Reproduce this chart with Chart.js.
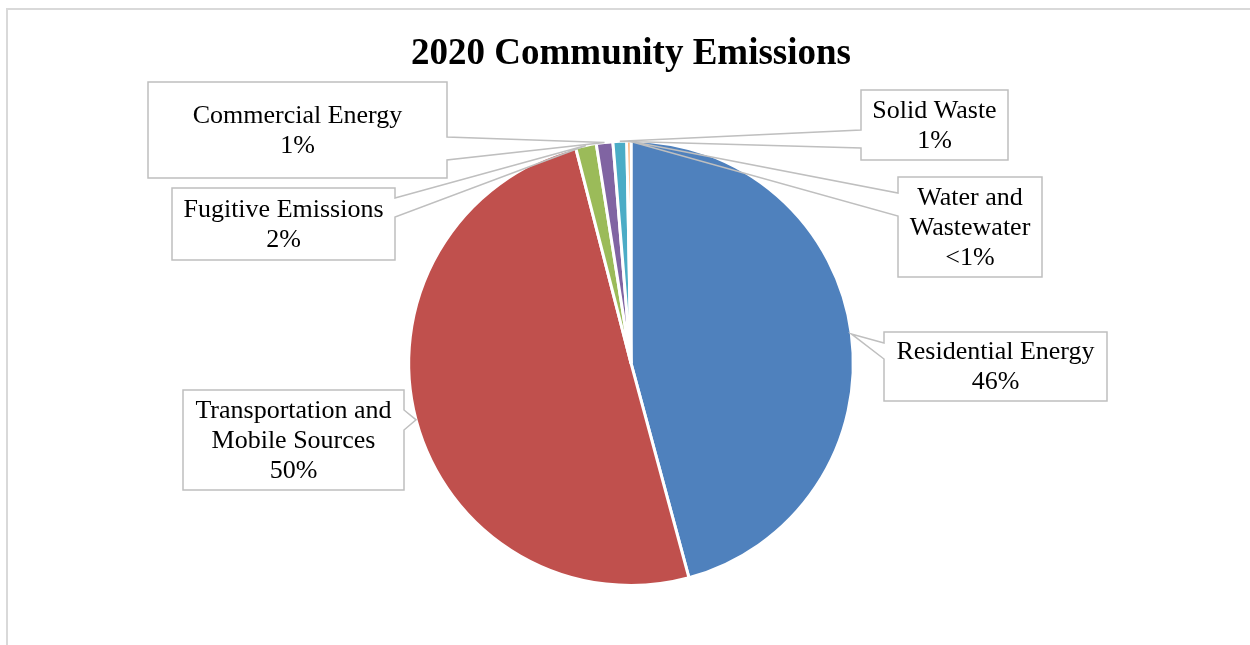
<!DOCTYPE html>
<html>
<head>
<meta charset="utf-8">
<title>2020 Community Emissions</title>
<script src="https://cdn.jsdelivr.net/npm/chart.js@4.4.0/dist/chart.umd.min.js"></script>
<style>
  body { margin: 0; background: #fff; }
  #wrap { width: 1250px; height: 645px; position: relative; }
</style>
</head>
<body>
<div id="wrap"><canvas id="myChart"></canvas></div>
<script>
'use strict';

let sectors = ['Residential Energy', 'Transportation and Mobile Sources', 'Fugitive Emissions', 'Commercial Energy', 'Solid Waste', 'Water and Wastewater'];
let shares = [45.8, 50.2, 1.5, 1.2, 1.0, 0.3];
let sliceColors = ['#4F81BD', '#C0504D', '#9BBB59', '#8064A2', '#4BACC6', '#F79646'];

// callout boxes, same order as sectors: [left, top, right, bottom],
// which side the pointer leaves from and where its base sits on that side
let callouts = [
  {box: [884, 332, 1107, 401], side: 'left', base: [343, 359]},
  {box: [183, 390, 404, 490], side: 'right', base: [410, 430]},
  {box: [172, 188, 395, 260], side: 'right', base: [198, 217]},
  {box: [148, 82, 447, 178], side: 'right', base: [137, 160]},
  {box: [861, 90, 1008, 160], side: 'left', base: [130, 148]},
  {box: [898, 177, 1042, 277], side: 'left', base: [193, 216]}
];

let labelFont = '26px "Liberation Serif", "Times New Roman", serif';

function pctText(i){
  let total = shares.reduce((a, b) => a + b, 0);
  let p = shares[i] / total * 100;
  return p < 1 ? '<1%' : Math.round(p) + '%';
}

function wrapWords(ctx, text, maxW){
  let words = text.split(' ');
  let lines = [];
  let cur = '';
  for(let w of words){
    let test = cur ? cur + ' ' + w : w;
    if(cur && ctx.measureText(test).width > maxW){
      lines.push(cur);
      cur = w;
    } else {
      cur = test;
    }
  }
  if(cur) lines.push(cur);
  return lines;
}

function drawCallout(ctx, c, tip, name, pct){
  let [x1, y1, x2, y2] = c.box;
  ctx.save();
  ctx.fillStyle = '#fff';
  ctx.fillRect(x1, y1, x2 - x1, y2 - y1);

  ctx.beginPath();
  if(c.side === 'left'){
    ctx.moveTo(x1, c.base[0]);
    ctx.lineTo(x1, y1);
    ctx.lineTo(x2, y1);
    ctx.lineTo(x2, y2);
    ctx.lineTo(x1, y2);
    ctx.lineTo(x1, c.base[1]);
    ctx.lineTo(tip.x, tip.y);
    ctx.closePath();
  } else {
    ctx.moveTo(x2, c.base[1]);
    ctx.lineTo(x2, y2);
    ctx.lineTo(x1, y2);
    ctx.lineTo(x1, y1);
    ctx.lineTo(x2, y1);
    ctx.lineTo(x2, c.base[0]);
    ctx.lineTo(tip.x, tip.y);
    ctx.closePath();
  }
  ctx.strokeStyle = '#BFBFBF';
  ctx.lineWidth = 1.5;
  ctx.stroke();

  ctx.font = labelFont;
  ctx.fillStyle = '#000';
  ctx.textAlign = 'center';
  ctx.textBaseline = 'middle';
  let lines = wrapWords(ctx, name, x2 - x1 - 16);
  lines.push(pct);
  let lh = 30;
  let cx = (x1 + x2) / 2;
  let cy = (y1 + y2) / 2 - (lines.length - 1) * lh / 2;
  lines.forEach((l, k) => ctx.fillText(l, cx, cy + k * lh + 1));
  ctx.restore();
}

// light grey frame around the chart
const framePlugin = {
  id: 'frame',
  beforeDraw(chart){
    let ctx = chart.ctx;
    ctx.save();
    ctx.strokeStyle = '#D9D9D9';
    ctx.lineWidth = 2;
    ctx.beginPath();
    ctx.moveTo(7, chart.height);
    ctx.lineTo(7, 9);
    ctx.lineTo(chart.width, 9);
    ctx.stroke();
    ctx.restore();
  }
};

// boxed data labels with wedge pointers onto each slice
const calloutPlugin = {
  id: 'callouts',
  afterDatasetsDraw(chart){
    let ctx = chart.ctx;
    let arcs = chart.getDatasetMeta(0).data;
    arcs.forEach((arc, i) => {
      let p = arc.getProps(['x', 'y', 'startAngle', 'endAngle', 'outerRadius'], true);
      let mid = (p.startAngle + p.endAngle) / 2;
      let tip = {x: p.x + Math.cos(mid) * p.outerRadius, y: p.y + Math.sin(mid) * p.outerRadius};
      drawCallout(ctx, callouts[i], tip, sectors[i], pctText(i));
    });
  }
};

function chartRender(){
  let ctx = document.getElementById('myChart').getContext('2d');
  new Chart(ctx, {
    type: 'pie',
    data: {
      labels: sectors,
      datasets: [{
        data: shares,
        backgroundColor: sliceColors,
        borderColor: '#fff',
        borderWidth: 3
      }]
    },
    options: {
      responsive: true,
      maintainAspectRatio: false,
      animation: false,
      layout: {
        padding: {left: 300, right: 288, top: 0, bottom: 58}
      },
      plugins: {
        legend: {display: false},
        tooltip: {enabled: false},
        title: {
          display: true,
          text: '2020 Community Emissions',
          color: '#000',
          font: {family: '"Liberation Serif", "Times New Roman", serif', size: 37, weight: 'bold'},
          padding: {top: 32, bottom: 63}
        }
      }
    },
    plugins: [framePlugin, calloutPlugin]
  });
}
chartRender();
</script>
</body>
</html>
